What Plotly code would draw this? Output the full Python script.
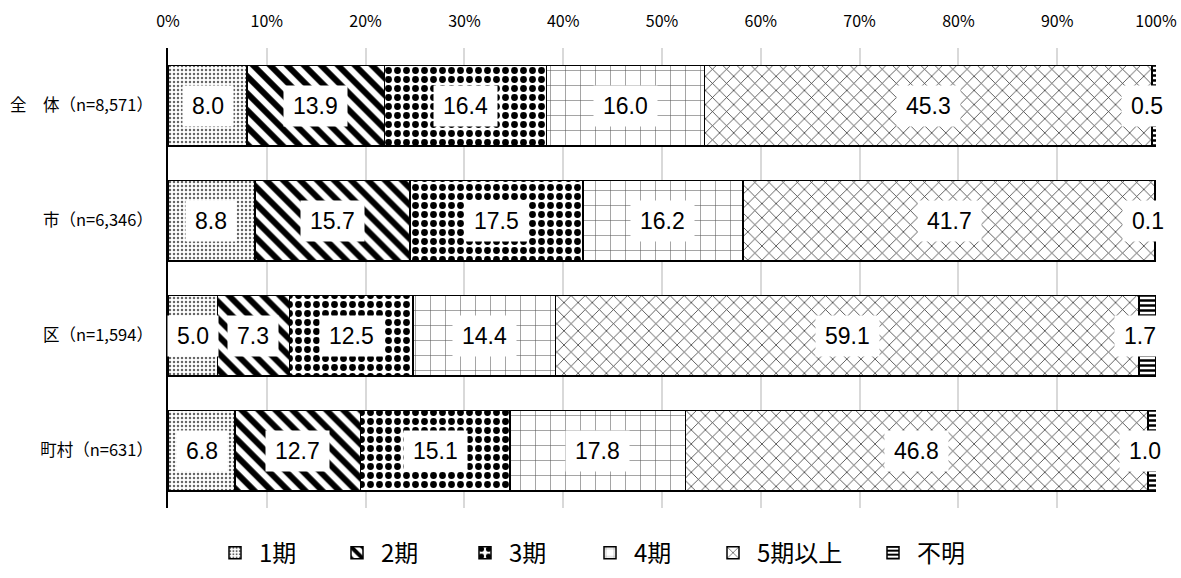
import plotly.graph_objects as go

# categories (top to bottom) and series
groups = ["全　体（n=8,571）", "市（n=6,346）", "区（n=1,594）", "町村（n=631）"]
series_names = ["1期", "2期", "3期", "4期", "5期以上", "不明"]

ki1 = [8.0, 8.8, 5.0, 6.8]
ki2 = [13.9, 15.7, 7.3, 12.7]
ki3 = [16.4, 17.5, 12.5, 15.1]
ki4 = [16.0, 16.2, 14.4, 17.8]
ki5_plus = [45.3, 41.7, 59.1, 46.8]
unknown = [0.5, 0.1, 1.7, 1.0]

x_ticks = list(range(0, 101, 10))
x_tick_labels = [f"{t}%" for t in x_ticks]

all_series = [ki1, ki2, ki3, ki4, ki5_plus, unknown]

# fill patterns, roughly like the Excel hatchings
patterns = [
    dict(shape=".", fgcolor="#666666", bgcolor="white", size=4, solidity=0.3),
    dict(shape="\\", fgcolor="black", bgcolor="white", size=12, solidity=0.5),
    dict(shape=".", fgcolor="black", bgcolor="white", size=9, solidity=0.45),
    dict(shape="+", fgcolor="#555555", bgcolor="white", size=15, solidity=0.07),
    dict(shape="x", fgcolor="#333333", bgcolor="white", size=10, solidity=0.15),
    dict(shape="-", fgcolor="black", bgcolor="white", size=5, solidity=0.5),
]

W, H = 1181, 578
plot_left, plot_w = 168, 988

# left edge of each legend swatch in the target picture
legend_px = [230, 352, 480, 605, 728, 888]

fig = go.Figure()
for i, (name, vals, pat) in enumerate(zip(series_names, all_series, patterns)):
    pat = dict(pat, fgopacity=1)
    fig.add_trace(go.Bar(
        y=groups,
        x=vals,
        name=name,
        orientation="h",
        marker=dict(color="white", pattern=pat, line=dict(color="black", width=1.5)),
        hoverinfo="x+name",
        legend="legend" if i == 0 else f"legend{i + 1}",
    ))

# value labels in white boxes
annos = []
for i, g in enumerate(groups):
    left = 0
    for k, vals in enumerate(all_series):
        mid = left + vals[i] / 2
        left += vals[i]
        annos.append(dict(
            x=mid, y=g, xref="x", yref="y",
            text=f"{vals[i]:.1f}",
            showarrow=False,
            bgcolor="white",
            borderpad=9,
            height=22,
            xshift=-8 if k == len(all_series) - 1 else 0,
            font=dict(size=23, color="black",
                      family="Liberation Sans Narrow, Arial Narrow, Liberation Sans, sans-serif"),
        ))

legends = {}
for i, px in enumerate(legend_px):
    key = "legend" if i == 0 else f"legend{i + 1}"
    legends[key] = dict(
        x=(px - 19 - plot_left) / plot_w, xanchor="left",
        y=-0.098, yanchor="middle",
        font=dict(size=24),
        bgcolor="rgba(0,0,0,0)",
        itemwidth=38,
    )

fig.update_layout(
    width=W,
    height=H,
    barmode="stack",
    bargap=0.3,
    plot_bgcolor="white",
    paper_bgcolor="white",
    margin=dict(l=plot_left, r=W - plot_left - plot_w, t=48, b=70, autoexpand=False),
    font=dict(family="Noto Sans CJK JP, sans-serif", color="black"),
    annotations=annos,
    showlegend=True,
    xaxis=dict(
        side="top",
        range=[0, 100],
        tickvals=x_ticks,
        ticktext=x_tick_labels,
        showgrid=True,
        gridcolor="#d9d9d9",
        gridwidth=1.5,
        zeroline=False,
        showline=False,
        ticks="",
        ticklabelstandoff=17,
        tickfont=dict(size=16),
        automargin=False,
        fixedrange=True,
    ),
    yaxis=dict(
        categoryorder="array",
        categoryarray=groups,
        autorange="reversed",
        showline=True,
        linecolor="black",
        linewidth=1.5,
        ticks="",
        ticklabelstandoff=10,
        tickfont=dict(size=16.5),
        automargin=False,
        fixedrange=True,
    ),
    **legends,
)

# drop the default body margin so the figure fills the window exactly
fig.write_html(
    "out.html",
    config={"displayModeBar": False},
    post_script="document.body.style.margin='0';",
)
